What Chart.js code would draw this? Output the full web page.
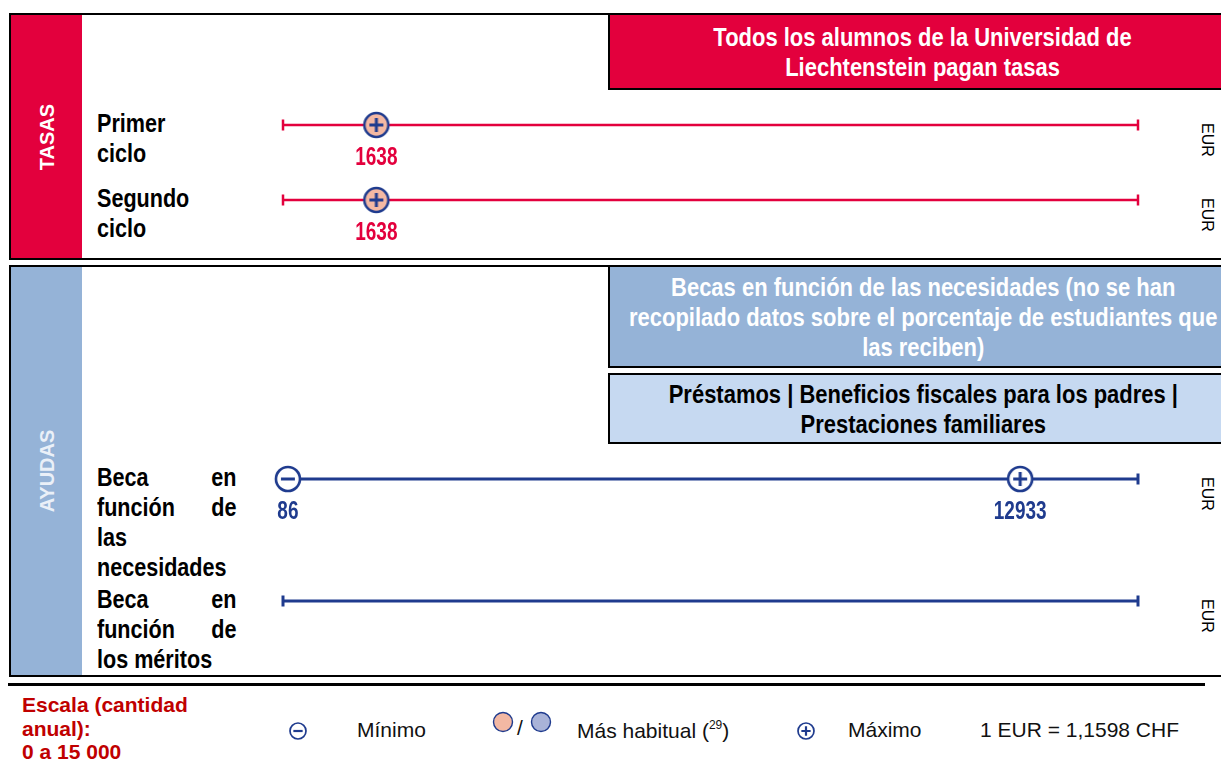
<!DOCTYPE html>
<html lang="es">
<head>
<meta charset="UTF-8" />
<title>Liechtenstein – tasas y ayudas</title>
<script src="https://cdn.jsdelivr.net/npm/chart.js"></script>
<style>
  html, body {
    margin: 0;
    padding: 0;
    background: #fff;
  }
  body {
    position: relative;
    width: 1221px;
    height: 767px;
    overflow: hidden;
    font-family: 'Liberation Sans', Arial, sans-serif;
  }
  .abs { position: absolute; }
  /* no narrow face installed: squeeze Liberation Sans bold instead */
  .narrow {
    font-family: 'Liberation Sans', Arial, sans-serif;
    font-weight: bold;
  }
  .panel {
    border: 2.5px solid #000;
    box-sizing: border-box;
  }
  .side {
    left: 11px;
    width: 71px;
  }
  .side span {
    position: absolute;
    left: 50%;
    top: 50%;
    transform: translate(-50%, -50%) rotate(-90deg);
    font-weight: bold;
    font-size: 20px;
    white-space: nowrap;
  }
  .head {
    left: 608px;
    width: 630px;
    display: flex;
    align-items: center;
    justify-content: center;
    text-align: center;
    font-size: 26px;
    line-height: 30px;
  }
  .head > div {
    white-space: nowrap;
    transform: scaleX(0.845);
    flex: none;
  }
  .lab {
    left: 97px;
    width: 168px;
    font-size: 26px;
    line-height: 30px;
    color: #000;
    transform: scaleX(0.83);
    transform-origin: 0 0;
  }
  .lab .j {
    display: flex;
    justify-content: space-between;
  }
  .eur {
    left: 1198px;
    writing-mode: vertical-rl;
    font-size: 16px;
    line-height: 18px;
    color: #000;
  }
  .leg {
    font-size: 21px;
    color: #111;
    white-space: nowrap;
  }
  canvas { position: absolute; left: 0; }
</style>
</head>
<body>

<!-- TASAS panel -->
<div class="abs panel" style="left:9px;top:13px;width:1240px;height:247px;"></div>
<div class="abs side" style="top:15px;height:243px;background:#E3003D;"><span style="color:#fff;">TASAS</span></div>
<div class="abs panel head narrow" style="top:13px;height:77px;background:#E3003D;color:#fff;">
  <div>Todos los alumnos de la Universidad de<br>Liechtenstein pagan tasas</div>
</div>
<div class="abs lab narrow" style="top:108px;">Primer<br>ciclo</div>
<div class="abs lab narrow" style="top:183px;">Segundo<br>ciclo</div>
<div class="abs eur" style="top:123px;">EUR</div>
<div class="abs eur" style="top:198px;">EUR</div>

<!-- AYUDAS panel -->
<div class="abs panel" style="left:9px;top:265px;width:1240px;height:412px;"></div>
<div class="abs side" style="top:267px;height:408px;background:#95B3D7;"><span style="color:#EAF0F8;">AYUDAS</span></div>
<div class="abs panel head narrow" style="top:265px;height:103px;background:#95B3D7;color:#fff;">
  <div>Becas en función de las necesidades (no se han<br>recopilado datos sobre el porcentaje de estudiantes que<br>las reciben)</div>
</div>
<div class="abs panel head narrow" style="top:373px;height:71px;background:#C6D9F1;color:#000;">
  <div>Préstamos | Beneficios fiscales para los padres |<br>Prestaciones familiares</div>
</div>
<div class="abs lab narrow" style="top:462px;">
  <div class="j"><span>Beca</span><span>en</span></div>
  <div class="j"><span>función</span><span>de</span></div>
  <div>las</div>
  <div>necesidades</div>
</div>
<div class="abs lab narrow" style="top:584px;">
  <div class="j"><span>Beca</span><span>en</span></div>
  <div class="j"><span>función</span><span>de</span></div>
  <div>los méritos</div>
</div>
<div class="abs eur" style="top:477px;">EUR</div>
<div class="abs eur" style="top:599px;">EUR</div>

<!-- separator -->
<div class="abs" style="left:8px;top:683px;width:1197px;height:2.5px;background:#000;"></div>

<!-- legend -->
<div class="abs" style="left:22px;top:693px;font-size:21px;line-height:23.5px;font-weight:bold;color:#C00000;">Escala (cantidad<br>anual):<br>0 a 15 000</div>
<canvas id="legMin" width="20" height="20" style="left:288px;top:721px;"></canvas>
<div class="abs leg" style="left:357px;top:718px;">Mínimo</div>
<canvas id="legPink" width="22" height="22" style="left:492px;top:711px;"></canvas>
<div class="abs leg" style="left:517px;top:716px;">/</div>
<canvas id="legBlue" width="22" height="22" style="left:530px;top:711px;"></canvas>
<div class="abs leg" style="left:577px;top:718px;">Más habitual (<sup style="font-size:12px;vertical-align:9px;">29</sup>)</div>
<canvas id="legMax" width="20" height="20" style="left:796px;top:721px;"></canvas>
<div class="abs leg" style="left:848px;top:718px;">Máximo</div>
<div class="abs leg" style="left:980px;top:718px;">1 EUR = 1,1598 CHF</div>

<canvas id="tasasChart" width="1221" height="165" style="top:90px;"></canvas>
<canvas id="ayudasChart" width="1221" height="230" style="top:445px;"></canvas>

<script>
  // scale (cantidad anual)
  const scaleMin = 0;
  const scaleMax = 15000;

  // TASAS
  const tasasRows = ['Primer ciclo', 'Segundo ciclo'];
  const tasasHabitual = [1638, 1638];   // most usual amount, also the maximum

  // AYUDAS
  const ayudasRows = ['Beca en función de las necesidades', 'Beca en función de los méritos'];
  const ayudasMin = [86, null];
  const ayudasMax = [12933, null];

  const RED = '#E3003D';
  const BLUE = '#1F3B8E';
  const PINK = '#F3B8A3';
  const LAVENDER = '#A9B3D8';

  // circle marker with a sign inside, used as pointStyle
  function makeIcon(size, r, sign, fill, lw, slw) {
    const c = document.createElement('canvas');
    c.width = size; c.height = size;
    const g = c.getContext('2d');
    const m = size / 2;
    g.beginPath();
    g.arc(m, m, r, 0, Math.PI * 2);
    g.fillStyle = fill;
    g.fill();
    g.lineWidth = lw;
    g.strokeStyle = BLUE;
    g.stroke();
    if (sign) {
      const a = r * 0.58;
      g.beginPath();
      g.moveTo(m - a, m); g.lineTo(m + a, m);
      if (sign === '+') { g.moveTo(m, m - a); g.lineTo(m, m + a); }
      g.lineWidth = slw || lw;
      g.stroke();
    }
    return c;
  }

  const iconPinkPlus = makeIcon(30, 12, '+', PINK, 2.5, 3);
  const iconMinus = makeIcon(30, 12, '-', '#fff', 2.6, 3);
  const iconPlus = makeIcon(30, 12, '+', '#fff', 2.6, 3);

  // legend icons
  function paste(id, icon) {
    document.getElementById(id).getContext('2d').drawImage(icon, 0, 0);
  }
  paste('legMin', makeIcon(20, 8, '-', '#fff', 1.7, 2.2));
  paste('legMax', makeIcon(20, 8, '+', '#fff', 1.7, 2.2));
  paste('legPink', makeIcon(22, 9.5, null, PINK, 1.4));
  paste('legBlue', makeIcon(22, 9.5, null, LAVENDER, 1.4));

  // writes the value below each marker (condensed by a horizontal squeeze)
  const valueLabels = {
    id: 'valueLabels',
    afterDatasetsDraw(chart) {
      const ctx = chart.ctx;
      chart.data.datasets.forEach((ds, i) => {
        if (!ds.labelColor) return;
        const meta = chart.getDatasetMeta(i);
        meta.data.forEach((pt, j) => {
          ctx.save();
          ctx.translate(pt.x, pt.y + 33);
          ctx.scale(0.76, 1);
          ctx.font = "bold 25px 'Liberation Sans', Arial, sans-serif";
          ctx.textAlign = 'center';
          ctx.textBaseline = 'middle';
          ctx.fillStyle = ds.labelColor;
          ctx.fillText(String(ds.data[j].x), 0, 0);
          ctx.restore();
        });
      });
    }
  };

  function rangeLines(rows, color, width) {
    return rows.map((r, i) => ({
      label: r,
      data: [{ x: scaleMin, y: i }, { x: scaleMax, y: i }],
      showLine: true,
      borderColor: color,
      borderWidth: width,
      pointStyle: 'line',
      pointRotation: 90,
      pointRadius: 5.5,
      pointBorderWidth: width,
      pointBorderColor: color,
      order: 2,
      clip: false
    }));
  }

  function markers(values, icon, labelColor) {
    const pts = [];
    values.forEach((v, i) => { if (v != null) pts.push({ x: v, y: i }); });
    return {
      data: pts,
      pointStyle: icon,
      pointRadius: 13,
      showLine: false,
      labelColor: labelColor,
      order: 0,
      clip: false
    };
  }

  function buildChart(id, rows, datasets, padTop, padBottom) {
    return new Chart(document.getElementById(id), {
      type: 'scatter',
      data: { datasets: datasets },
      options: {
        responsive: false,
        devicePixelRatio: 1,
        animation: false,
        events: [],
        layout: { padding: { left: 283, right: 83, top: padTop, bottom: padBottom } },
        scales: {
          x: { type: 'linear', min: scaleMin, max: scaleMax, display: false },
          y: { type: 'linear', min: 0, max: rows.length - 1, reverse: true, display: false }
        },
        plugins: { legend: { display: false }, tooltip: { enabled: false } }
      },
      plugins: [valueLabels]
    });
  }

  buildChart('tasasChart', tasasRows,
    rangeLines(tasasRows, RED, 2.5).concat([markers(tasasHabitual, iconPinkPlus, RED)]),
    35, 55);

  buildChart('ayudasChart', ayudasRows,
    rangeLines(ayudasRows, BLUE, 3).concat([
      markers(ayudasMin, iconMinus, BLUE),
      markers(ayudasMax, iconPlus, BLUE)
    ]),
    34, 74);
</script>
</body>
</html>
